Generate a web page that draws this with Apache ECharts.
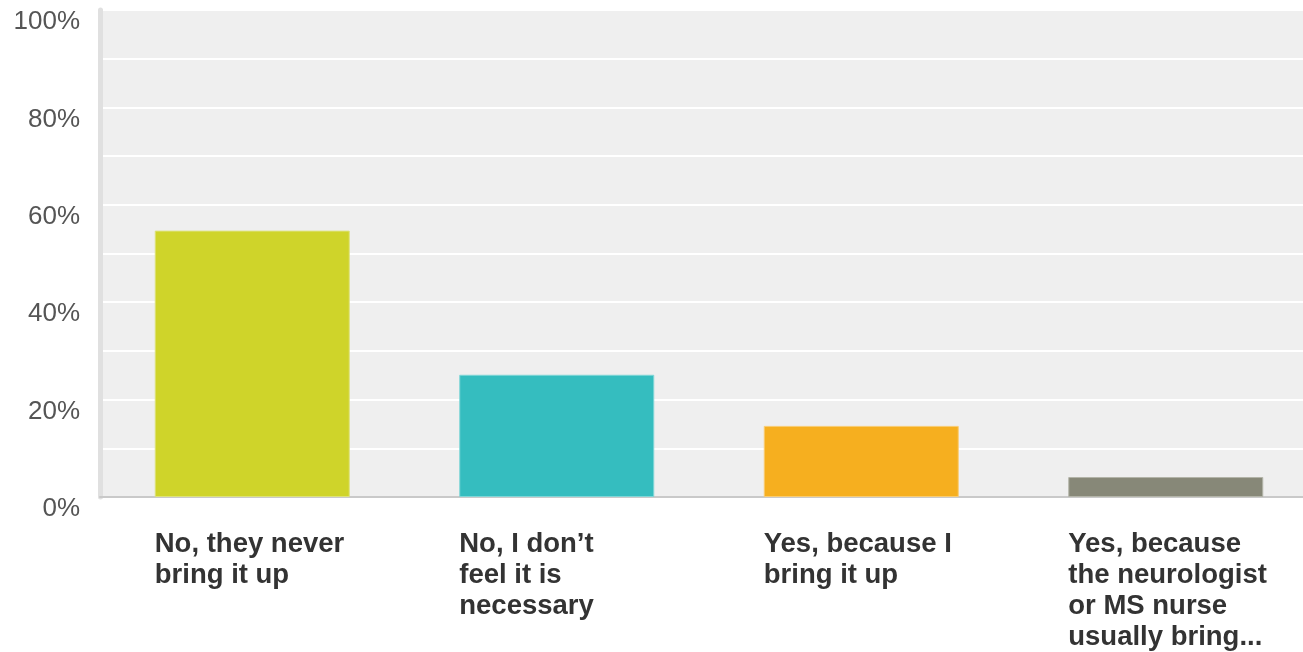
<!DOCTYPE html>
<html>
<head>
<meta charset="utf-8">
<script src="https://cdn.jsdelivr.net/npm/echarts@6/dist/echarts.min.js"></script>
<style>
html,body{margin:0;padding:0;background:#fff;}
#chart{width:1303px;height:652px;}
</style>
</head>
<body>
<div id="chart"></div>
<script>
const categories = [
  "No, they never\nbring it up",
  "No, I don\u2019t\nfeel it is\nnecessary",
  "Yes, because I\nbring it up",
  "Yes, because\nthe neurologist\nor MS nurse\nusually bring..."
];
const values = [54.7, 25.1, 14.6, 4.1];
const colors = ["#cfd42a", "#35bdbf", "#f6af1f", "#878878"];
const borderColors = ["#dde27a", "#80d6d7", "#f9cc73", "#b3b4a8"];

const chart = echarts.init(document.getElementById('chart'), null, {renderer: 'canvas'});
chart.setOption({
  animation: false,
  grid: {
    left: 100, width: 1218, top: 10, bottom: 155,
    outerBoundsMode: 'none', containLabel: false,
    show: true, backgroundColor: '#efefef', borderWidth: 0
  },
  xAxis: {
    type: 'category',
    data: categories,
    axisTick: {show: false},
    axisLine: {show: true, lineStyle: {color: '#c9c9c9', width: 2}},
    axisLabel: {
      interval: 0,
      margin: 32,
      formatter: function (v) {
        return v.split('\n').map(function (l) { return '{a|' + l + '}'; }).join('\n');
      },
      rich: {
        a: {
          width: 195, align: 'left',
          fontFamily: 'Liberation Sans, Arial, sans-serif',
          fontSize: 27.5, fontWeight: 'bold', color: '#333333', lineHeight: 31
        }
      }
    }
  },
  yAxis: {
    type: 'value',
    min: 0, max: 100, interval: 10,
    axisLine: {show: true, lineStyle: {color: '#e0e0e0', width: 5}},
    axisTick: {show: false},
    splitLine: {show: true, lineStyle: {color: '#ffffff', width: 2}},
    axisLabel: {
      margin: 20,
      formatter: function (v) { return v % 20 === 0 ? '{a|' + v + '%}' : ''; },
      rich: {
        a: {
          padding: [24, 0, 0, 0],
          fontFamily: 'Liberation Sans, Arial, sans-serif',
          fontSize: 26, color: '#555555'
        }
      }
    }
  },
  series: [{
    type: 'bar',
    barWidth: 195,
    data: values.map(function (v, i) {
      return {value: v, itemStyle: {color: colors[i], borderColor: borderColors[i], borderWidth: 1}};
    })
  }]
});
</script>
</body>
</html>
